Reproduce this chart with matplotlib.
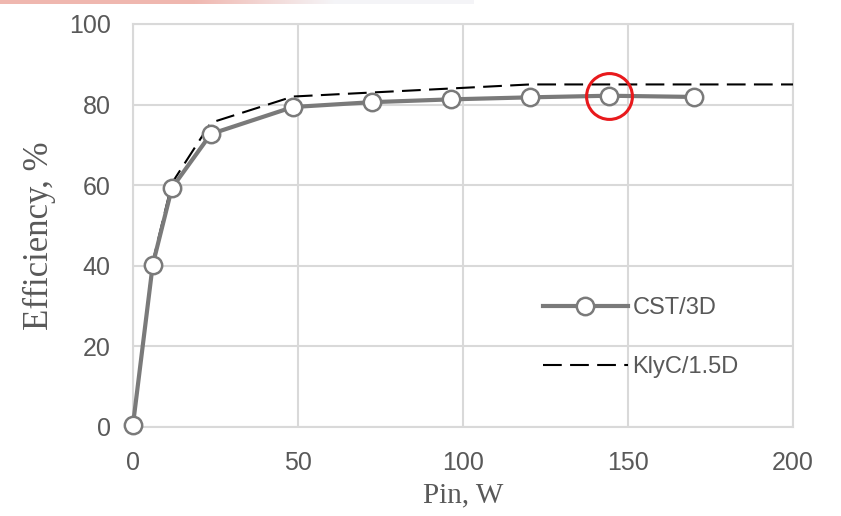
import matplotlib
matplotlib.use("Agg")
import matplotlib.pyplot as plt
import numpy as np

# CST/3D simulation
pin_cst = [0, 6, 11.8, 23.6, 48.5, 72.4, 96.4, 120.3, 144.2, 170]
eff_cst = [0.5, 40.3, 59.3, 72.7, 79.4, 80.6, 81.3, 81.8, 82.2, 81.9]

# KlyC/1.5D
pin_klyc = [0, 6, 11.8, 23.6, 48.5, 72.4, 96.4, 120.3, 144.2, 170, 200]
eff_klyc = [0, 41, 60.5, 75.5, 82, 83, 84, 85, 85, 85, 85]

circled = (144.2, 82.2)

grid_c = "#d9d9d9"
txt_c = "#595959"

fig = plt.figure(figsize=(8.41, 5.16), dpi=100)
ax = fig.add_axes([0.1581, 0.1725, 0.7848, 0.781])

ax.plot(pin_klyc, eff_klyc, color="black", lw=1.5, dashes=(9, 4),
        label="KlyC/1.5D", zorder=3, clip_on=False)
ax.plot(pin_cst, eff_cst, color="#7a7a7a", lw=3, marker="o", ms=12.5,
        mfc="white", mec="#7a7a7a", mew=1.8, label="CST/3D", zorder=4,
        clip_on=False)
ax.plot([circled[0]], [circled[1]], marker="o", ms=33, mfc="none",
        mec="#e8191c", mew=2.2, zorder=5, clip_on=False)

ax.set_xlim(0, 200)
ax.set_ylim(0, 100)
ax.set_xticks(np.arange(0, 201, 50))
ax.set_yticks(np.arange(0, 101, 20))
ax.grid(True, color=grid_c, lw=1.5)
ax.set_axisbelow(True)
for s in ax.spines.values():
    s.set_color(grid_c)
    s.set_linewidth(1.5)
ax.tick_params(length=0, labelsize=18, labelcolor=txt_c)
ax.tick_params(axis="x", pad=17)
ax.tick_params(axis="y", pad=16)
for lab in ax.get_xticklabels() + ax.get_yticklabels():
    lab.set_family("Liberation Sans")

ax.set_xlabel("Pin, W", family="Liberation Serif", fontsize=21,
              color=txt_c, va="center", ha="center")
ax.xaxis.set_label_coords(0.5, -0.169)
ax.set_ylabel("Efficiency, %", family="Liberation Serif", fontsize=25,
              color=txt_c, va="center", ha="center")
ax.yaxis.set_label_coords(-0.142, 0.474)

h, l = ax.get_legend_handles_labels()
leg = ax.legend(h[::-1], l[::-1], loc="upper left",
                bbox_to_anchor=(0.621, 0.322), frameon=False,
                borderpad=0, borderaxespad=0,
                handlelength=3.6, handletextpad=0.2, labelspacing=1.55,
                prop={"family": "Liberation Sans", "size": 17})
for t in leg.get_texts():
    t.set_color(txt_c)

# faint pink strip along the top edge of the screenshot
w = 841
xs = np.arange(w)
pink = np.array([0.94, 0.72, 0.69])
grey = np.array([0.96, 0.96, 0.97])
white = np.array([1.0, 1.0, 1.0])
img = np.ones((1, w, 3))
for i in xs:
    if i < 194:
        c = pink
    elif i < 334:
        f = (i - 194) / 140
        c = pink * (1 - f) + grey * f
    elif i < 474:
        c = grey
    else:
        c = white
    img[0, i] = c
strip = fig.add_axes([0, 1 - 4 / 516, 1, 4 / 516])
strip.imshow(img, aspect="auto")
strip.axis("off")

fig.savefig("out.png", dpi=100)
